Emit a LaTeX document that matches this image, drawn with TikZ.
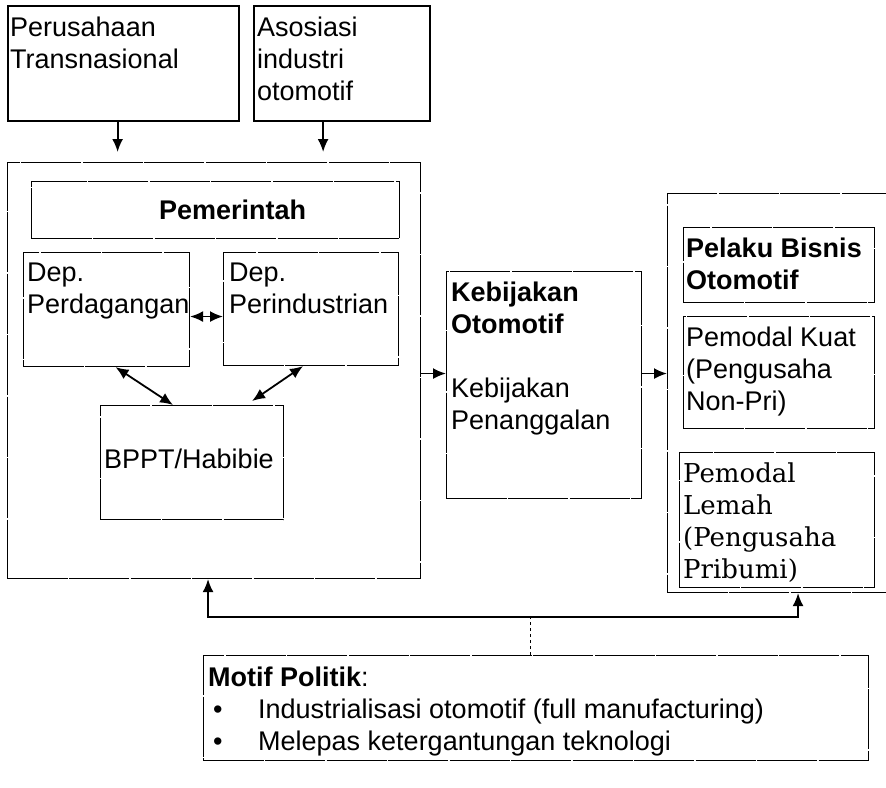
\documentclass[tikz,border=0pt]{standalone}
\usepackage{fontspec}
\setmainfont{Liberation Sans}
\newfontfamily\bookfont{DejaVu Serif}
\usetikzlibrary{arrows.meta}

\begin{document}
\begin{tikzpicture}[x=1pt, y=-1pt,
  font=\fontsize{27}{32}\selectfont,
  frame/.style={draw, line width=2.2pt, anchor=north west, inner sep=0pt},
  box/.style={draw, line width=1.1pt, dash pattern=on 60pt off 1.5pt, anchor=north west, inner sep=0pt},
  txt/.style={anchor=north west, inner sep=0pt, align=left},
  arr/.style={-{Latex[length=13pt,width=11pt]}, line width=1.8pt},
  twoway/.style={{Latex[length=13pt,width=11pt]}-{Latex[length=13pt,width=11pt]}, line width=1.8pt}]
\useasboundingbox (0,0) rectangle (886,787);
% Outside actors
\node[frame, minimum width=231pt, minimum height=115pt] (firma) at (7,5) {};
\node[frame, minimum width=176pt, minimum height=115pt] (asosiasi) at (253,5) {};
\node[txt] at ([xshift=3pt,yshift=-12pt]firma.north west) {Perusahaan\\Transnasional};
\node[txt] at ([xshift=4pt,yshift=-12pt]asosiasi.north west) {Asosiasi\\industri\\otomotif};
% Government block
\node[box, minimum width=413pt, minimum height=416pt] (gov) at (7,162) {};
\node[box, minimum width=368pt, minimum height=57pt] (judul) at (31,181) {};
\node[font=\fontsize{27}{32}\selectfont\bfseries] at ([xshift=17pt]judul.center) {Pemerintah};
\node[box, minimum width=166pt, minimum height=114pt] (dagang) at (23,252) {};
\node[box, minimum width=175pt, minimum height=113pt] (industri) at (223,252) {};
\node[box, minimum width=183pt, minimum height=114pt] (bppt) at (100,405) {};
\node[txt] at ([xshift=4pt,yshift=-11pt]dagang.north west) {Dep.\\Perdagangan};
\node[txt] at ([xshift=6pt,yshift=-11pt]industri.north west) {Dep.\\Perindustrian};
\node[anchor=west, inner sep=0pt] at ([xshift=4pt,yshift=4pt]bppt.west) {BPPT/Habibie};
% Links inside government
\draw[twoway] ([yshift=-7pt]dagang.east) -- ([yshift=-7pt]dagang.east -| industri.west);
\draw[twoway] ([xshift=9pt]dagang.south) -- ([xshift=-19pt]bppt.north);
\draw[twoway] ([xshift=-8pt]industri.south) -- ([xshift=60pt,yshift=4pt]bppt.north);
% Influence from outside
\draw[arr, shorten >=10pt] ([xshift=-6pt]firma.south) -- ([xshift=-6pt]firma.south |- gov.north);
\draw[arr, shorten >=10pt] ([xshift=-19pt]asosiasi.south) -- ([xshift=-19pt]asosiasi.south |- gov.north);
% Policy
\node[box, minimum width=195pt, minimum height=227pt] (kebijakan) at (446,271) {};
\node[txt] at ([xshift=5pt,yshift=-11pt]kebijakan.north west) {\textbf{Kebijakan}\\\textbf{Otomotif}\\[32pt]Kebijakan\\Penanggalan};
% Business actors
\node[box, minimum width=225pt, minimum height=399pt] (bisnis) at (667,193) {};
\node[box, minimum width=191pt, minimum height=75pt] (pelaku) at (683,227) {};
\node[box, minimum width=191pt, minimum height=112pt] (kuat) at (683,316) {};
\node[box, minimum width=195pt, minimum height=135pt] (lemah) at (679,452) {};
\node[txt] at ([xshift=3pt,yshift=-11pt]pelaku.north west) {\textbf{Pelaku Bisnis}\\\textbf{Otomotif}};
\node[txt] at ([xshift=3pt,yshift=-11pt]kuat.north west) {Pemodal Kuat\\(Pengusaha\\Non-Pri)};
\node[txt, font=\fontsize{26}{32}\selectfont\bookfont] at ([xshift=4pt,yshift=-11pt]lemah.north west) {Pemodal\\Lemah\\(Pengusaha\\Pribumi)};
% Main flow
\draw[arr] ([yshift=-3pt]gov.east) -- ([yshift=-3pt]gov.east -| kebijakan.west);
\draw[arr] ([yshift=-3pt]gov.east -| kebijakan.east) -- ([yshift=-3pt]gov.east -| bisnis.west);
% Political motive
\node[box, minimum width=665pt, minimum height=105pt] (motif) at (203,655) {};
\node[txt] at ([xshift=5pt,yshift=-12pt]motif.north west) {\textbf{Motif Politik}:\\
  \makebox[50pt][l]{\hspace{5pt}\textbullet}Industrialisasi otomotif (full manufacturing)\\
  \makebox[50pt][l]{\hspace{5pt}\textbullet}Melepas ketergantungan teknologi};
\coordinate (cabang) at (530,617);
\draw[dashed, line width=0.8pt] (motif.north -| cabang) -- (cabang);
\draw[arr] (cabang) -| ([xshift=-6pt]gov.south);
\draw[arr] (cabang) -| ([xshift=18pt]bisnis.south);
\end{tikzpicture}
\end{document}
